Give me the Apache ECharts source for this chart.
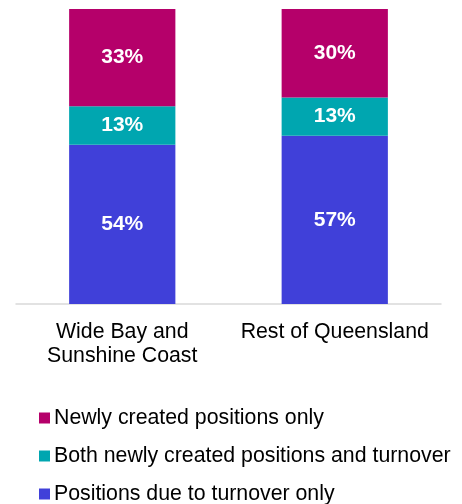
<!DOCTYPE html>
<html><head><meta charset="utf-8">
<script src="https://cdn.jsdelivr.net/npm/echarts@6/dist/echarts.min.js"></script>
<style>html,body{margin:0;padding:0;background:#fff}#c{width:462px;height:504px}</style>
</head><body><div id="c"></div>
<script>
const categories = ['Wide Bay and\nSunshine Coast', 'Rest of Queensland'];
const turnoverOnly = [54, 57];
const both = [13, 13];
const newlyCreated = [33, 30];
const seriesNames = ['Newly created positions only', 'Both newly created positions and turnover', 'Positions due to turnover only'];

const chart = echarts.init(document.getElementById('c'));
const lbl = {show: true, position: 'inside', color: '#fff', fontFamily: 'Liberation Sans, Arial', fontWeight: 'bold', fontSize: 21, formatter: p => p.value + '%'};
chart.setOption({
  animation: false,
  grid: {left: 16, right: 21, top: 9, bottom: 200},
  xAxis: {
    type: 'category', data: categories,
    axisLine: {lineStyle: {color: '#d9d9d9', width: 1.5}},
    axisTick: {show: false},
    axisLabel: {interval: 0, hideOverlap: false, color: '#000', fontFamily: 'Liberation Sans, Arial', fontSize: 21.3, lineHeight: 24, margin: 16}
  },
  yAxis: {type: 'value', min: 0, max: 100, show: false, splitLine: {show: false}},
  legend: {
    orient: 'vertical', left: 34, top: 402, height: 110, itemWidth: 11, itemHeight: 11, itemGap: 16,
    icon: 'rect', padding: 5,
    data: seriesNames,
    textStyle: {color: '#000', fontFamily: 'Liberation Sans, Arial', fontSize: 21.3, lineHeight: 22, padding: [0,0,0,-1]}
  },
  series: [
    {name: seriesNames[2], type: 'bar', stack: 't', data: turnoverOnly, barWidth: '50%', itemStyle: {color: '#4040D9'}, label: lbl},
    {name: seriesNames[1], type: 'bar', stack: 't', data: both, itemStyle: {color: '#00A6B0'}, label: lbl},
    {name: seriesNames[0], type: 'bar', stack: 't', data: newlyCreated, itemStyle: {color: '#B5006A'}, label: lbl}
  ]
});
</script></body></html>
